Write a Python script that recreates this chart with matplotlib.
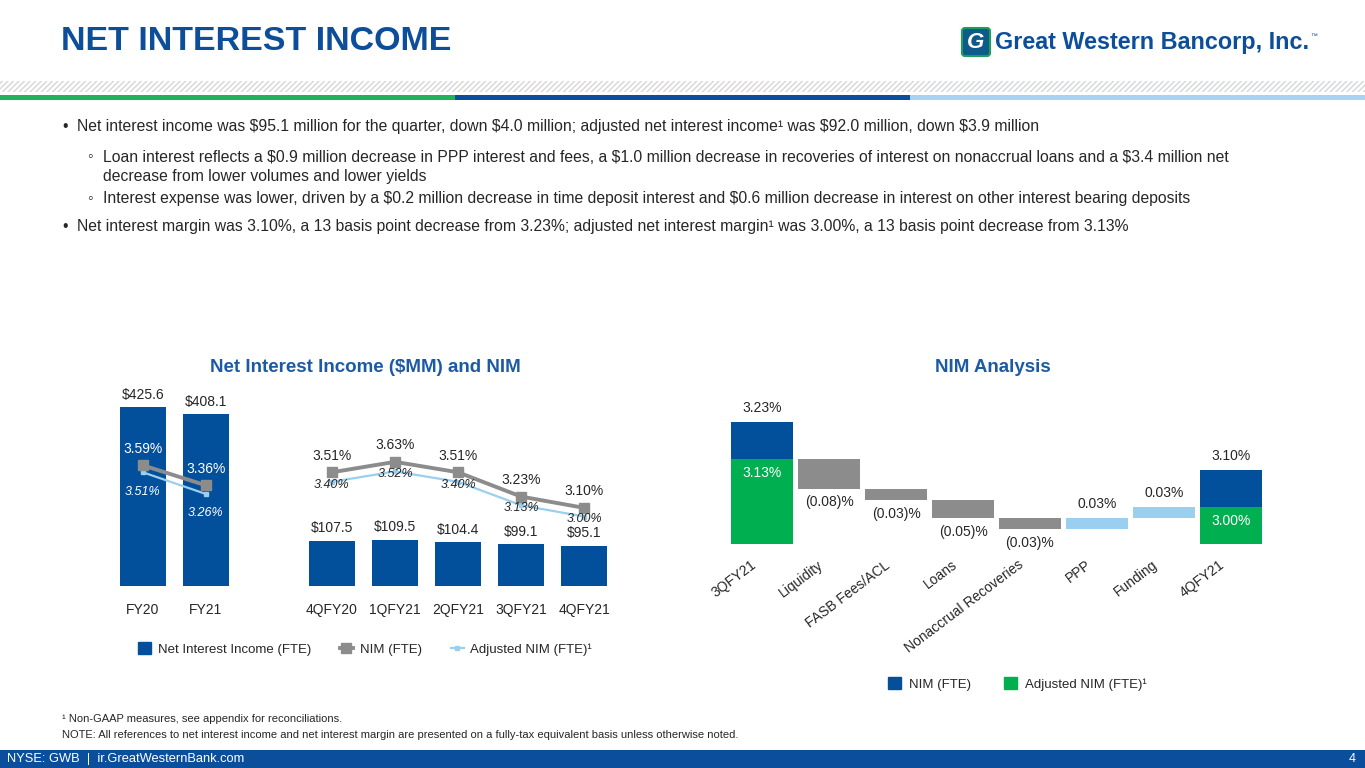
import numpy as np
import matplotlib
matplotlib.use('Agg')
import matplotlib.pyplot as plt
import matplotlib.transforms as mtransforms
from matplotlib.patches import Rectangle, FancyBboxPatch
from matplotlib.lines import Line2D
from matplotlib.patches import Patch

plt.rcParams['font.family'] = ['Liberation Sans', 'DejaVu Sans']

W, H = 1365, 768
BLUE = '#02509C'
GREEN = '#00B050'
GRAY = '#8C8C8C'
LBLUE = '#9ACFEF'
TITLE = '#0D4E9A'
TXT = '#262626'

# left chart data
periods = ['FY20', 'FY21', '4QFY20', '1QFY21', '2QFY21', '3QFY21', '4QFY21']
nii = [425.6, 408.1, 107.5, 109.5, 104.4, 99.1, 95.1]
nim = [3.59, 3.36, 3.51, 3.63, 3.51, 3.23, 3.10]
adj_nim = [3.51, 3.26, 3.40, 3.52, 3.40, 3.13, 3.00]
pos = [0, 1, 3, 4, 5, 6, 7]

# right chart data
steps = ['3QFY21', 'Liquidity', 'FASB Fees/ACL', 'Loans', 'Nonaccrual Recoveries', 'PPP', 'Funding', '4QFY21']
changes = [-0.08, -0.03, -0.05, -0.03, 0.03, 0.03]
start_nim, start_adj = 3.23, 3.13
end_nim, end_adj = 3.10, 3.00


def px(x0, y0, x1, y1):
    return [x0 / W, 1 - y1 / H, (x1 - x0) / W, (y1 - y0) / H]


fig = plt.figure(figsize=(W / 100, H / 100), dpi=100)
bg = fig.add_axes([0, 0, 1, 1])
bg.set_xlim(0, W)
bg.set_ylim(H, 0)
bg.axis('off')

# header
bg.text(61, 42, 'NET INTEREST INCOME', fontsize=24.5, fontweight='bold', color=TITLE, va='center')
bg.add_patch(FancyBboxPatch((962, 28), 28, 28, boxstyle='round,pad=0,rounding_size=3', fc='#0E5A8A', ec='#1F9E5A', lw=1.5))
bg.text(976, 42, 'G', fontsize=16, color='white', style='italic', fontweight='bold', ha='center', va='center')
bg.text(995, 43, 'Great Western Bancorp, Inc.', fontsize=16.8, color=TITLE, va='center', fontweight='bold')
bg.text(1310, 36, '™', fontsize=5, color=TITLE, va='center')
bg.add_patch(Rectangle((0, 81), W, 11, fc='white', ec='#D6D6D6', lw=0, hatch='//////'))
bg.add_patch(Rectangle((0, 95), 455, 5, fc='#21B35A', lw=0))
bg.add_patch(Rectangle((455, 95), 455, 5, fc='#0B4F9C', lw=0))
bg.add_patch(Rectangle((910, 95), 455, 5, fc='#A6D3F2', lw=0))

# bullets
fs = 11.3
bg.text(62, 127, '•', fontsize=fs, color=TXT, va='center')
bg.text(77, 127, 'Net interest income was \\$95.1 million for the quarter, down \\$4.0 million; adjusted net interest income¹ was \\$92.0 million, down \\$3.9 million',
        fontsize=fs, color=TXT, va='center')
bg.text(87, 157, '◦', fontsize=fs, color=TXT, va='center')
bg.text(103, 157, 'Loan interest reflects a \\$0.9 million decrease in PPP interest and fees, a \\$1.0 million decrease in recoveries of interest on nonaccrual loans and a \\$3.4 million net',
        fontsize=fs, color=TXT, va='center')
bg.text(103, 176, 'decrease from lower volumes and lower yields', fontsize=fs, color=TXT, va='center')
bg.text(87, 198, '◦', fontsize=fs, color=TXT, va='center')
bg.text(103, 198, 'Interest expense was lower, driven by a \\$0.2 million decrease in time deposit interest and \\$0.6 million decrease in interest on other interest bearing deposits',
        fontsize=fs, color=TXT, va='center')
bg.text(62, 226, '•', fontsize=fs, color=TXT, va='center')
bg.text(77, 226, 'Net interest margin was 3.10%, a 13 basis point decrease from 3.23%; adjusted net interest margin¹ was 3.00%, a 13 basis point decrease from 3.13%',
        fontsize=fs, color=TXT, va='center')

# chart titles
bg.text(365, 367, 'Net Interest Income (\\$MM) and NIM', fontsize=13.5, fontweight='bold', color='#1B5AA5', ha='center', va='center')
bg.text(993, 367, 'NIM Analysis', fontsize=13.5, fontweight='bold', color='#1B5AA5', ha='center', va='center')

# footer
bg.text(62, 719, '¹ Non-GAAP measures, see appendix for reconciliations.', fontsize=8, color=TXT, va='center')
bg.text(62, 735, 'NOTE: All references to net interest income and net interest margin are presented on a fully-tax equivalent basis unless otherwise noted.',
        fontsize=8, color=TXT, va='center')
bg.add_patch(Rectangle((0, 750), W, 18, fc='#0B4F9C', lw=0))
bg.text(7, 759, 'NYSE: GWB  |  ir.GreatWesternBank.com', fontsize=9.3, color='white', va='center')
bg.text(1356, 759, '4', fontsize=9, color='white', va='center', ha='right')

# ---- left chart ----
ax = fig.add_axes(px(105, 380, 622, 586))
ax.bar(pos, nii, width=0.73, color=BLUE, zorder=1)
ax.set_xlim(-0.6, 7.6)
ax.set_ylim(0, 490)
for s in ax.spines.values():
    s.set_visible(False)
ax.set_yticks([])
ax.set_xticks(pos)
ax.set_xticklabels(periods, fontsize=10, color=TXT)
ax.tick_params(axis='x', length=0, pad=12)
for p, v in zip(pos, nii):
    ax.annotate('$%.1f' % v, (p, v), xytext=(0, 4), textcoords='offset points', ha='center', va='bottom',
                fontsize=10, color=TXT)

ax2 = ax.twinx()
ax2.set_ylim(2.20, 4.573)
ax2.axis('off')
for sl in [slice(0, 2), slice(2, 7)]:
    ax2.plot(pos[sl], adj_nim[sl], color=LBLUE, lw=1.6, marker='s', ms=3, zorder=2)
    ax2.plot(pos[sl], nim[sl], color=GRAY, lw=2.8, marker='s', ms=7, zorder=3)
for i, (p, v, a) in enumerate(zip(pos, nim, adj_nim)):
    if i < 2:
        ax2.annotate('%.2f%%' % v, (p, v), xytext=(0, 12), textcoords='offset points', ha='center',
                     va='center', fontsize=10, color='white')
        ax2.annotate('%.2f%%' % a, (p, a), xytext=(0, -14), textcoords='offset points', ha='center',
                     va='center', fontsize=9, color='white', style='italic')
    else:
        ax2.annotate('%.2f%%' % v, (p, v), xytext=(0, 12), textcoords='offset points', ha='center',
                     va='center', fontsize=10, color=TXT)
        ax2.annotate('%.2f%%' % a, (p, a), xytext=(0, -2), textcoords='offset points', ha='center',
                     va='center', fontsize=9, color=TXT, style='italic')

h1 = [Patch(color=BLUE, label='Net Interest Income (FTE)'),
      Line2D([], [], color=GRAY, lw=2.8, marker='s', ms=7, label='NIM (FTE)'),
      Line2D([], [], color=LBLUE, lw=1.6, marker='s', ms=3, label='Adjusted NIM (FTE)¹')]
fig.legend(handles=h1, loc='center', bbox_to_anchor=(365 / W, 1 - 649 / H), ncol=3, frameon=False,
           fontsize=9.5, handlelength=1.0, handleheight=1.0, columnspacing=2.2, handletextpad=0.5,
           labelcolor=TXT)

# ---- right chart ----
bx = fig.add_axes(px(722, 395, 1271, 544))
bx.set_xlim(-0.6, 7.6)
bx.set_ylim(2.90, 3.303)
for s in bx.spines.values():
    s.set_visible(False)
bx.set_yticks([])
wid = 0.92
bx.bar(0, start_nim, width=wid, color=BLUE)
bx.bar(0, start_adj, width=wid, color=GREEN)
bx.bar(7, end_nim, width=wid, color=BLUE)
bx.bar(7, end_adj, width=wid, color=GREEN)
levels = start_adj + np.concatenate([[0], np.cumsum(changes)])
for i, c in enumerate(changes):
    lo = min(levels[i], levels[i + 1])
    bx.bar(i + 1, abs(c), bottom=lo, width=wid, color=GRAY if c < 0 else LBLUE)
    if c < 0:
        bx.annotate('(%.2f)%%' % abs(c), (i + 1, lo), xytext=(0, -10), textcoords='offset points',
                    ha='center', va='center', fontsize=10, color=TXT)
    else:
        bx.annotate('%.2f%%' % c, (i + 1, lo + c), xytext=(0, 10), textcoords='offset points',
                    ha='center', va='center', fontsize=10, color=TXT)
for p, v, a in [(0, start_nim, start_adj), (7, end_nim, end_adj)]:
    bx.annotate('%.2f%%' % v, (p, v), xytext=(0, 10), textcoords='offset points', ha='center',
                va='center', fontsize=10, color=TXT)
    bx.annotate('%.2f%%' % a, (p, a), xytext=(0, -10), textcoords='offset points', ha='center',
                va='center', fontsize=10, color='white')
bx.set_xticks(range(len(steps)))
bx.set_xticklabels(steps, rotation=37, ha='right', rotation_mode='anchor', fontsize=10, color=TXT)
bx.tick_params(axis='x', length=0, pad=10)
shift = mtransforms.ScaledTranslation(-12 / 100, 0, fig.dpi_scale_trans)
for lab in bx.get_xticklabels():
    lab.set_transform(lab.get_transform() + shift)

h2 = [Patch(color=BLUE, label='NIM (FTE)'), Patch(color=GREEN, label='Adjusted NIM (FTE)¹')]
fig.legend(handles=h2, loc='center', bbox_to_anchor=(1017 / W, 1 - 684 / H), ncol=2, frameon=False,
           fontsize=9.5, handlelength=1.0, handleheight=1.0, columnspacing=2.5, handletextpad=0.6,
           labelcolor=TXT)

fig.savefig('out.png', dpi=100)
